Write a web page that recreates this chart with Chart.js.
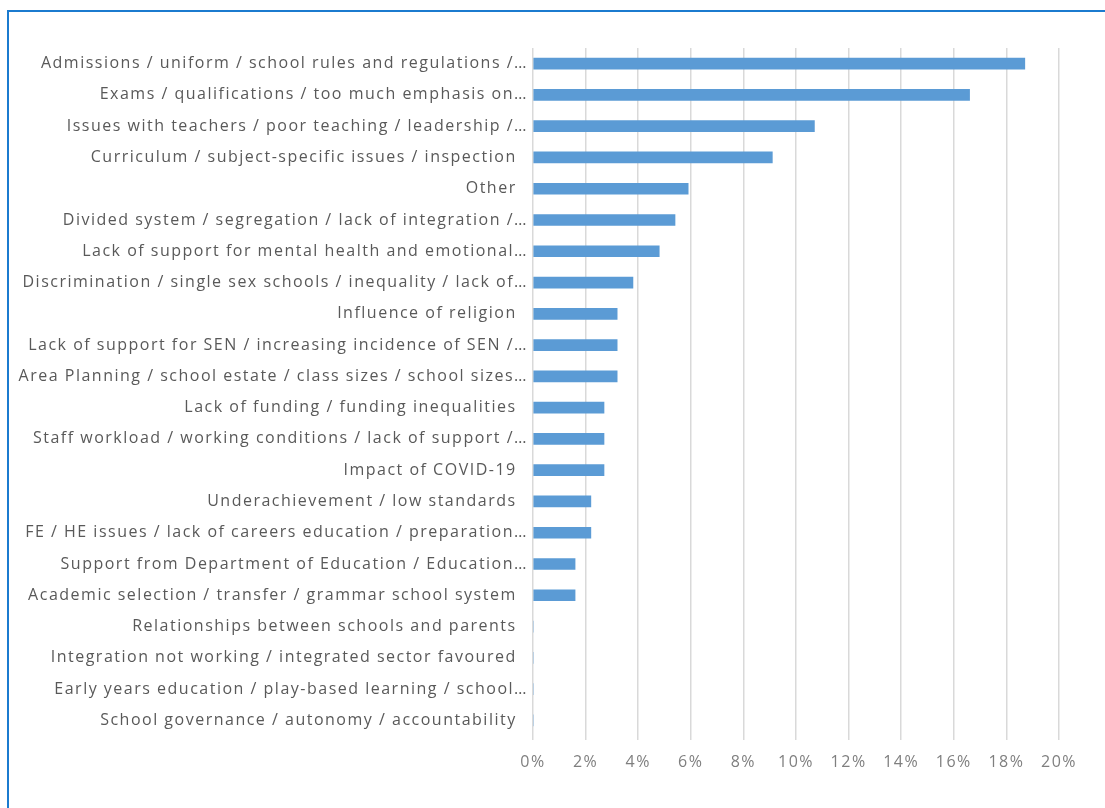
<!DOCTYPE html>
<html>
<head>
<meta charset="utf-8">
<script src="https://cdn.jsdelivr.net/npm/chart.js@4.4.1/dist/chart.umd.min.js"></script>
<style>
    html, body { margin: 0; padding: 0; background: #fff; overflow: hidden; }
    #frame {
        position: absolute;
        left: 7px;
        top: 10px;
        width: 1200px;
        height: 900px;
        border-left: 2px solid #1b7bcf;
        border-top: 2px solid #1b7bcf;
    }
    #wrap { position: absolute; left: 0; top: 0; width: 1105px; height: 808px; }
</style>
</head>
<body>
<div id="frame"></div>
<div id="wrap"><canvas id="issues-chart"></canvas></div>
<script>
// Issues raised, share of responses (%)
const categorias = [
    'Admissions / uniform / school rules and regulations /…',
    'Exams / qualifications / too much emphasis on…',
    'Issues with teachers / poor teaching / leadership /…',
    'Curriculum / subject-specific issues / inspection  ',
    'Other  ',
    'Divided system / segregation / lack of integration /…',
    'Lack of support for mental health and emotional…',
    'Discrimination / single sex schools / inequality / lack of…',
    'Influence of religion  ',
    'Lack of support for SEN / increasing incidence of SEN /…',
    'Area Planning / school estate / class sizes / school sizes…',
    'Lack of funding / funding inequalities  ',
    'Staff workload / working conditions / lack of support /…',
    'Impact of COVID-19  ',
    'Underachievement / low standards  ',
    'FE / HE issues / lack of careers education / preparation…',
    'Support from Department of Education / Education…',
    'Academic selection / transfer / grammar school system  ',
    'Relationships between schools and parents  ',
    'Integration not working / integrated sector favoured  ',
    'Early years education / play-based learning / school…',
    'School governance / autonomy / accountability  '
];
const percentuais = [18.7, 16.6, 10.7, 9.1, 5.9, 5.4, 4.8, 3.8, 3.2, 3.2, 3.2, 2.7, 2.7, 2.7, 2.2, 2.2, 1.6, 1.6, 0, 0, 0, 0];
const xMin = 0;
const xMax = 20;
const xStep = 2;

// wider text spacing for all labels
const spacingPlugin = {
    id: 'spacing',
    beforeDraw: function(chart) {
        chart.ctx.letterSpacing = '1.5px';
    }
};

createIssuesChart();

function createIssuesChart() {
    const ctx = document.getElementById('issues-chart').getContext('2d');
    const chart = new Chart(ctx, {
        type: 'bar',
        data: {
            labels: categorias,
            datasets: [{
                label: 'Issues',
                data: percentuais,
                backgroundColor: '#5b9bd5',
                borderWidth: 0,
                barThickness: 11,
            }]
        },
        options: {
            indexAxis: 'y',
            responsive: true,
            maintainAspectRatio: false,
            animation: false,
            layout: {
                padding: { left: 0, right: 46, top: 48, bottom: 0 }
            },
            scales: {
                x: {
                    min: xMin,
                    max: xMax,
                    ticks: {
                        stepSize: xStep,
                        color: '#7f7f7f',
                        padding: 13,
                        font: { family: 'Open Sans', size: 16 },
                        callback: function(value) {
                            return value + '%';
                        }
                    },
                    grid: {
                        color: '#d9d9d9',
                        lineWidth: 1.5,
                        drawTicks: true,
                        tickLength: 4,
                    },
                    border: { display: false },
                    afterFit: function(scale) {
                        scale.height = 72;
                    }
                },
                y: {
                    ticks: {
                        color: '#595959',
                        padding: -3,
                        autoSkip: false,
                        font: { family: 'Open Sans', size: 16 },
                    },
                    grid: { display: false },
                    border: { display: false },
                    afterFit: function(scale) {
                        scale.width = 533;
                    }
                }
            },
            plugins: {
                legend: { display: false },
                title: { display: false },
                tooltip: { enabled: false }
            }
        },
        plugins: [spacingPlugin]
    });
}
</script>
</body>
</html>
